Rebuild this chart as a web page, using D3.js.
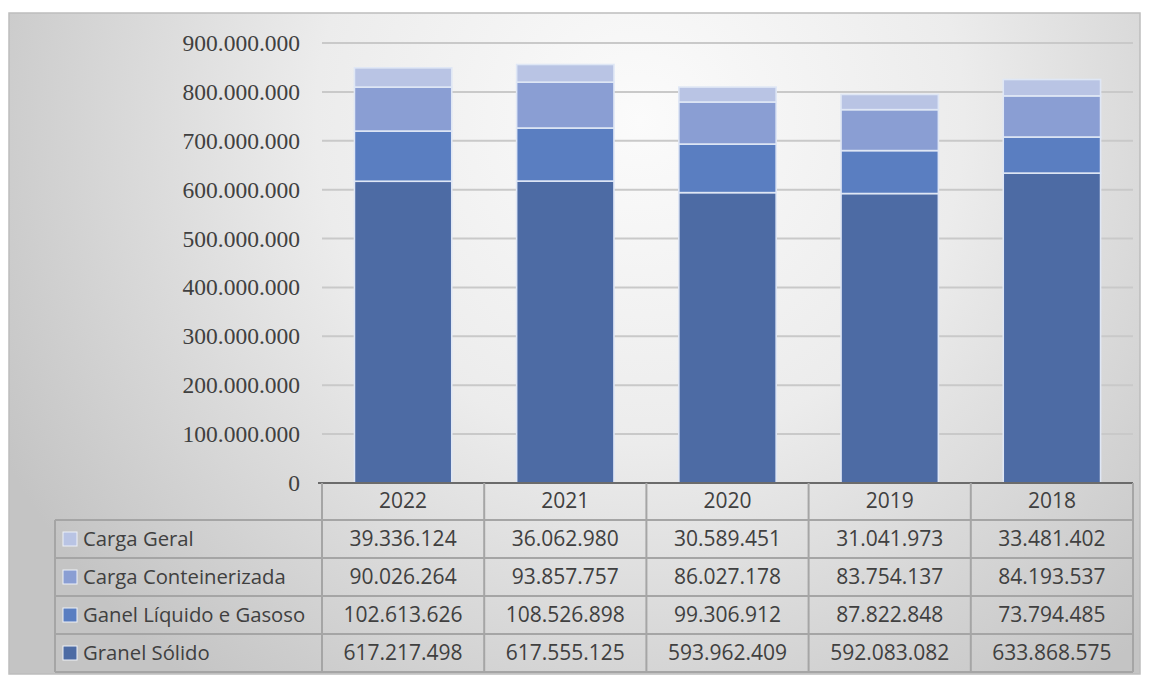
<!DOCTYPE html>
<html><head><meta charset="utf-8">
<script src="https://cdn.jsdelivr.net/npm/d3@7"></script>
<style>html,body{margin:0;padding:0;background:#fff;}svg{display:block;}</style>
</head><body>
<svg id="c" width="1149" height="677"></svg>
<script>
const years = ["2022","2021","2020","2019","2018"];
const seriesNames = ["Carga Geral","Carga Conteinerizada","Ganel Líquido e Gasoso","Granel Sólido"];
const cargaGeral = [39336124, 36062980, 30589451, 31041973, 33481402];
const cargaConteinerizada = [90026264, 93857757, 86027178, 83754137, 84193537];
const granelLiquido = [102613626, 108526898, 99306912, 87822848, 73794485];
const granelSolido = [617217498, 617555125, 593962409, 592083082, 633868575];
const yTicks = [0,100000000,200000000,300000000,400000000,500000000,600000000,700000000,800000000,900000000];
const colors = {"Granel Sólido":"#4d6ba4","Ganel Líquido e Gasoso":"#5a7ec1","Carga Conteinerizada":"#8a9ed3","Carga Geral":"#b9c4e4"};

const seriesValues = {"Carga Geral":cargaGeral,"Carga Conteinerizada":cargaConteinerizada,"Ganel Líquido e Gasoso":granelLiquido,"Granel Sólido":granelSolido};
const rows = years.map((y,i)=>{const o={year:y};seriesNames.forEach(s=>o[s]=seriesValues[s][i]);return o;});
const stackOrder = ["Granel Sólido","Ganel Líquido e Gasoso","Carga Conteinerizada","Carga Geral"];
const stacked = d3.stack().keys(stackOrder)(rows);

const svg = d3.select("#c");
const defs = svg.append("defs");
const rg = defs.append("radialGradient").attr("id","bg").attr("gradientUnits","userSpaceOnUse")
  .attr("cx",640).attr("cy",120).attr("r",720);
rg.append("stop").attr("offset","0").attr("stop-color","#fbfbfb");
rg.append("stop").attr("offset","0.45").attr("stop-color","#ececec");
rg.append("stop").attr("offset","1").attr("stop-color","#c4c4c4");

svg.append("rect").attr("x",9).attr("y",13).attr("width",1131).attr("height",661)
  .attr("fill","url(#bg)").attr("stroke","#bdbdbd").attr("stroke-width",1.5);

const x0 = 322, x1 = 1133;
const y = d3.scaleLinear().domain([0,900000000]).range([483,43]);
const x = d3.scaleBand().domain(years).range([x0,x1]).paddingInner(0.4).paddingOuter(0.2);
const col = d3.scaleBand().domain(years).range([x0,x1]);
const fmt = v => d3.format(",")(v).replace(/,/g,".");

// gridlines
svg.append("g").selectAll("line").data(yTicks.filter(t=>t>0)).join("line")
  .attr("x1",x0).attr("x2",x1).attr("y1",d=>y(d)).attr("y2",d=>y(d))
  .attr("stroke","#c9c9c9").attr("stroke-width",2);

// y axis labels
const yAxis = d3.axisLeft(y).tickValues(yTicks).tickFormat(fmt).tickSize(0).tickPadding(22);
const ya = svg.append("g").attr("transform",`translate(${x0},0)`).call(yAxis);
ya.select(".domain").remove();
ya.selectAll("text").attr("font-family","'Liberation Serif','Times New Roman',serif")
  .attr("font-size","23.5px").attr("fill","#404040");

// bars
svg.append("g").selectAll("g").data(stacked).join("g")
  .attr("fill",d=>colors[d.key])
  .selectAll("rect").data(d=>d).join("rect")
  .attr("x",d=>x(d.data.year)).attr("width",x.bandwidth())
  .attr("y",d=>y(d[1])).attr("height",d=>y(d[0])-y(d[1]))
  .attr("stroke","#dfe7f5").attr("stroke-width",1.6);

// axis line
svg.append("line").attr("x1",x0-4).attr("x2",x1).attr("y1",483).attr("y2",483)
  .attr("stroke","#6b6b6b").attr("stroke-width",2);

// data table
const rowH = 38;
const headTop = 483, bodyTop = 520;
const legX = 55;
const gridC = "#a5a5a5";
const tf = "'Open Sans','Noto Sans',sans-serif";
const tg = svg.append("g");
// header
tg.selectAll("text.h").data(years).join("text").attr("class","h")
  .attr("x",d=>col(d)+col.bandwidth()/2).attr("y",headTop+rowH/2-2).attr("text-anchor","middle")
  .attr("dominant-baseline","central").attr("font-family",tf).attr("font-size","21px").attr("fill","#404040").text(d=>d);
// horizontal lines
const hLines = [bodyTop, bodyTop+rowH, bodyTop+2*rowH, bodyTop+3*rowH, bodyTop+4*rowH];
tg.selectAll("line.hl").data(hLines).join("line").attr("class","hl")
  .attr("x1",legX).attr("x2",x1).attr("y1",d=>d).attr("y2",d=>d).attr("stroke",gridC).attr("stroke-width",2);
// vertical lines
const vLines = years.map(d=>col(d)).concat([x1]);
tg.selectAll("line.vl").data(vLines).join("line").attr("class","vl")
  .attr("x1",d=>d).attr("x2",d=>d).attr("y1",headTop).attr("y2",bodyTop+4*rowH).attr("stroke",gridC).attr("stroke-width",2);
tg.append("line").attr("x1",legX).attr("x2",legX).attr("y1",bodyTop).attr("y2",bodyTop+4*rowH).attr("stroke",gridC).attr("stroke-width",2);

seriesNames.forEach((s,ri)=>{
  const cy = bodyTop + ri*rowH + rowH/2;
  tg.append("rect").attr("x",legX+8).attr("y",cy-7).attr("width",14).attr("height",14)
    .attr("fill",colors[s]).attr("stroke","#eef1f8").attr("stroke-width",1);
  tg.append("text").attr("x",legX+28).attr("y",cy-1).attr("dominant-baseline","central")
    .attr("font-family",tf).attr("font-size","20.3px").attr("fill","#404040").text(s);
  tg.selectAll(null).data(seriesValues[s]).join("text")
    .attr("x",(d,i)=>col(years[i])+col.bandwidth()/2).attr("y",cy-1).attr("text-anchor","middle")
    .attr("dominant-baseline","central").attr("font-family",tf).attr("font-size","21px").attr("fill","#404040").text(d=>fmt(d));
});
</script>
</body></html>
